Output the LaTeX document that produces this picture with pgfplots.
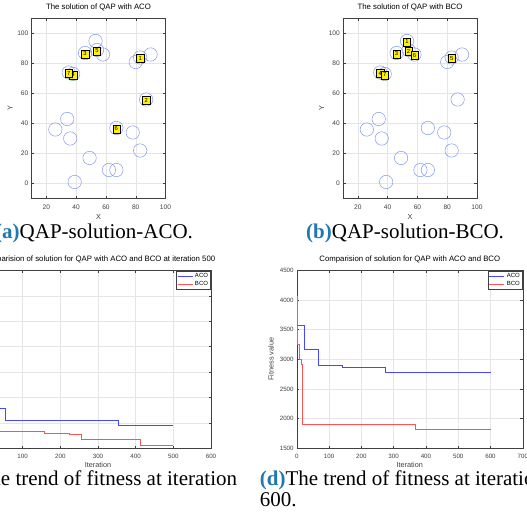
\documentclass[border=0pt]{standalone}
\usepackage{fontspec}
\setmainfont{Liberation Sans}
\newfontfamily\capfont{Liberation Serif}
\usepackage{pgfplots}
\usepackage{pgfplotstable}
\pgfplotsset{compat=1.18}
\definecolor{mblue}{rgb}{0.28,0.28,1}
\definecolor{mred}{rgb}{1,0.32,0.32}
\definecolor{circ}{RGB}{130,150,240}
\definecolor{capblue}{RGB}{31,119,180}
\definecolor{axgray}{gray}{0.25}

\pgfplotstableread{
x y
53 95
46 87
54 89
58 86
83 84
90 86
80 81
35 74
38 73
87 56
34 43
26 36
67 37
78 34
36 30
83 22
49 17
62 9
67 9
39 1
}\locs

\pgfplotstableread{
x y l
83 84 1
87 56 2
46 87 3
38 73 4
54 89 5
67 37 6
35 74 7
}\labACO

\pgfplotstableread{
x y l
53 95 1
54 89 2
46 87 3
35 74 4
83 84 5
58 86 6
38 73 7
}\labBCO

\pgfplotsset{
 matstyle/.style={
   scale only axis,
   axis line style={axgray, line width=0.5pt},
   tick style={axgray, line width=0.4pt},
   major tick length=2.5pt,
   tick align=inside,
   grid=major,
   grid style={gray!20, line width=0.4pt},
   every tick label/.append style={text=axgray},
   /pgf/number format/assume math mode=true,
   /pgf/number format/1000 sep={},
   title style={at={(0.5,1)}, anchor=base, yshift=2.5pt, inner sep=0pt, font=\fontsize{7.8}{8}\selectfont},
   every axis x label/.style={at={(axis description cs:0.5,0)}, anchor=center, text=axgray, inner sep=0pt},
   every axis y label/.style={at={(axis description cs:0,0.5)}, rotate=90, anchor=center, text=axgray, inner sep=0pt},
   xticklabel style={inner sep=0pt},
   yticklabel style={inner sep=0pt, xshift=-3pt},
 },
 qapstyle/.style={
   matstyle, width=134pt, height=180pt,
   xmin=10, xmax=100, ymin=-10, ymax=110,
   xtick={20,40,...,100}, ytick={0,20,...,100},
   ticklabel style={font=\fontsize{6.6}{7}\selectfont},
   xticklabel style={yshift=-5.8pt},
   xlabel={X}, ylabel={Y},
   xlabel style={yshift=-18pt, font=\fontsize{7.3}{8}\selectfont},
   ylabel style={yshift=21.5pt, font=\fontsize{7.3}{8}\selectfont},
 },
 fitstyle/.style={
   matstyle, width=226pt, height=178pt,
   ticklabel style={font=\fontsize{6.2}{7}\selectfont},
   xticklabel style={yshift=-5.2pt},
   xlabel={Iteration},
   xlabel style={yshift=-17pt, font=\fontsize{7.3}{8}\selectfont},
   ylabel style={yshift=25.7pt, font=\fontsize{7.3}{8}\selectfont},
   legend style={at={(1,1)}, anchor=north east, xshift=-0.3pt, yshift=-0.5pt,
     font=\fontsize{6}{6.5}\selectfont, draw=axgray, line width=0.4pt,
     inner sep=0.5pt, row sep=-2pt, cells={anchor=west}},
   legend image code/.code={\draw[#1, line width=0.9pt] (0pt,0pt) -- (15pt,0pt);},
 },
 labstyle/.style={only marks, mark=*, mark size=0pt, mark options={draw=none, fill=none},
   nodes near coords, point meta=explicit symbolic,
   nodes near coords style={draw=black, fill=yellow, text=black, inner sep=0pt,
     minimum width=7.3pt, minimum height=8.2pt, anchor=center, yshift=-1pt,
     line width=0.4pt, font=\fontsize{5.8}{6}\selectfont}},
}

\begin{document}
\begin{tikzpicture}
\path[use as bounding box] (0pt,0pt) rectangle (527pt,519pt);
\clip (0pt,0pt) rectangle (527pt,519pt);

% (a)
\begin{axis}[qapstyle, at={(31.5pt,320.5pt)}, anchor=south west,
  title={The solution of QAP with ACO}]
\addplot[only marks, mark=o, mark size=6.7pt, circ, mark options={line width=0.5pt}] table[x=x,y=y] {\locs};
\addplot[labstyle] table[x=x,y=y,meta=l] {\labACO};
\end{axis}

% (b)
\begin{axis}[qapstyle, at={(343pt,320.5pt)}, anchor=south west,
  title={The solution of QAP with BCO}]
\addplot[only marks, mark=o, mark size=6.7pt, circ, mark options={line width=0.5pt}] table[x=x,y=y] {\locs};
\addplot[labstyle] table[x=x,y=y,meta=l] {\labBCO};
\end{axis}

% (c) -- its left edge lies outside the cropped picture, as in the reference
\begin{axis}[fitstyle, at={(-15pt,70.7pt)}, anchor=south west,
  xmin=0, xmax=600, ymin=1500, ymax=5000,
  xtick={0,100,...,600}, xticklabels={,100,200,300,400,500,600},
  ytick={1500,2000,...,5000}, yticklabels={},
  title={Comparision of solution for QAP with ACO and BCO at iteration 500}]
\addplot[const plot, mblue, line width=0.9pt] coordinates {
 (0,2292) (55,2056) (354,1944) (500,1944)};
\addlegendentry{ACO}
\addplot[const plot, mred, line width=0.9pt] coordinates {
 (0,1840) (157,1795) (223,1767) (255,1683) (412,1559) (500,1559)};
\addlegendentry{BCO}
\end{axis}

% (d)
\begin{axis}[fitstyle, at={(296.8pt,70.7pt)}, anchor=south west,
  xmin=0, xmax=700, ymin=1500, ymax=4500,
  xtick={0,100,...,700}, ytick={1500,2000,...,4500},
  ylabel={Fitness value},
  title={Comparision of solution for QAP with ACO and BCO}]
\addplot[const plot, mblue, line width=0.9pt] coordinates {
 (0,3855) (2,3575) (24,3170) (68,2890) (140,2868) (275,2785) (600,2785)};
\addlegendentry{ACO}
\addplot[const plot, mred, line width=0.9pt] coordinates {
 (0,4055) (2,3860) (3,3245) (7,3000) (14,2905) (17,1897) (367,1815) (600,1815)};
\addlegendentry{BCO}
\end{axis}

% captions
\node[anchor=base west, inner sep=0pt, font=\capfont\fontsize{21}{21}\selectfont] at (-5pt,280pt)
  {\textcolor{capblue}{\textbf{(a)}}QAP-solution-ACO.};
\node[anchor=base west, inner sep=0pt, font=\capfont\fontsize{21}{21}\selectfont] at (306pt,280pt)
  {\textcolor{capblue}{\textbf{(b)}}QAP-solution-BCO.};
\node[anchor=base east, inner sep=0pt, font=\capfont\fontsize{21}{21}\selectfont] at (237.3pt,33pt)
  {\textcolor{capblue}{\textbf{(c)}}The trend of fitness at iteration};
\node[anchor=base west, inner sep=0pt, font=\capfont\fontsize{21}{21}\selectfont] at (259.7pt,33pt)
  {\textcolor{capblue}{\textbf{(d)}}The trend of fitness at iteration};
\node[anchor=base west, inner sep=0pt, font=\capfont\fontsize{21}{21}\selectfont] at (259.7pt,12.3pt)
  {600.};
\end{tikzpicture}
\end{document}
